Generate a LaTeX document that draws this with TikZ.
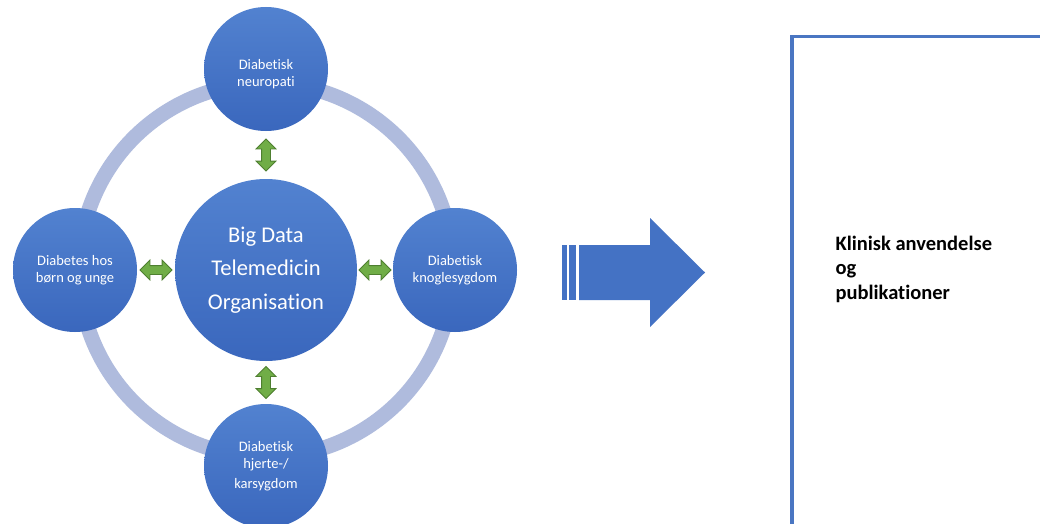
\documentclass[tikz,border=0pt]{standalone}
\usepackage{fontspec}
\setmainfont{Carlito}[Ligatures=NoCommon]
\usetikzlibrary{shapes.arrows,calc}

\definecolor{bubbletop}{HTML}{5282D0}
\definecolor{bubblebot}{HTML}{3A67BD}
\definecolor{ringblue}{HTML}{AFBBDD}
\definecolor{linkgreen}{HTML}{70AD47}
\definecolor{linkedge}{HTML}{4E7F30}
\definecolor{flowblue}{HTML}{4472C4}
\definecolor{frameblue}{HTML}{4A76C2}

\begin{document}
\begin{tikzpicture}[x=1pt,y=-1pt]
    % --- styles ---
    \tikzset{
      topic/.style={circle,minimum size=124pt,inner sep=0pt,top color=bubbletop,
        bottom color=bubblebot,text=white,align=center,
        font=\fontsize{14.5}{17}\selectfont},
      hub/.style={topic,minimum size=182pt,font=\fontsize{22.5}{33.5}\selectfont},
      link/.style={double arrow,fill=linkgreen,draw=linkedge,line width=0.8pt,
        inner xsep=0pt,inner ysep=4pt,minimum height=32pt,
        double arrow head extend=5.5pt},
      vlink/.style={link,shape border rotate=90,inner xsep=4pt,inner ysep=0pt},
      framebox/.style={draw=frameblue,line width=3.5pt,inner sep=0pt,anchor=north west}
    }

    \clip (0,0) rectangle (1040,524);
    \fill[white] (0,0) rectangle (1040,524);

    % ring behind the circles
    \draw[ringblue,line width=15pt] (266,270) circle[radius=187pt];

    % circles
    \node[hub]   (hub)   at (266,270) {Big Data\\Telemedicin\\Organisation};
    \node[topic] (neuro) at (266,69)
      {\raisebox{-6pt}[\height][\depth]{\begin{tabular}{@{}c@{}}Diabetisk\\neuropati\end{tabular}}};
    \node[topic] (kids)  at (75,270)  {Diabetes hos\\børn og unge};
    \node[topic] (bone)  at (455,270) {Diabetisk\\knoglesygdom};
    \node[topic] (heart) at (266,466) {Diabetisk\\hjerte-/\\[3pt]karsygdom};

    % green double arrows between hub and topics
    \node[vlink] (l1) at ($(neuro.south)!0.5!(hub.north)$) {};
    \node[link]  (l2) at ($(kids.east)!0.5!(hub.west)$) {};
    \node[link]  (l3) at ($(hub.east)!0.5!(bone.west)$) {};
    \node[vlink] (l4) at ($(hub.south)!0.5!(heart.north)$) {};

    % big arrow with stripes
    \fill[flowblue] (562,245) rectangle (567,300);
    \fill[flowblue] (569,245) rectangle (576,300);
    \fill[flowblue] (579,245) -- (650,245) -- (650,218) -- (705,272.5)
      -- (650,327) -- (650,300) -- (579,300) -- cycle;

    % result box
    \node[framebox,minimum width=270pt,minimum height=510pt] (result) at (790,35) {};
    \node[anchor=west,align=left,font=\fontsize{20.5}{24.5}\selectfont\bfseries]
      (resulttext) at (832,269) {Klinisk anvendelse\\og\\publikationer};
\end{tikzpicture}
\end{document}
